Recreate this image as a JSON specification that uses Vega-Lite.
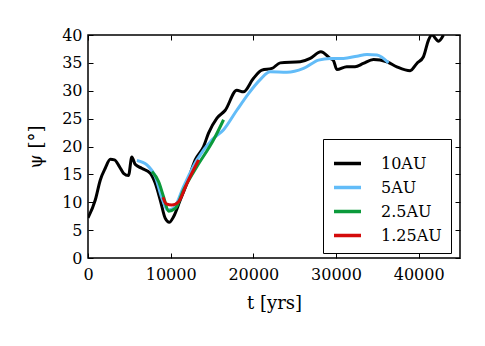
{
  "$schema": "https://vega.github.io/schema/vega-lite/v6.json",
  "autosize": {"type": "none"},
  "padding": {"left": 88, "top": 35, "right": 25, "bottom": 88},
  "width": 372,
  "height": 223,
  "background": "white",
  "config": {
    "view": {"stroke": "black", "strokeWidth": 1.5},
    "font": "DejaVu Serif",
    "axis": {
      "grid": false,
      "domain": false,
      "tickColor": "black",
      "tickSize": -5,
      "tickWidth": 1,
      "labelFlush": false,
      "labelFont": "DejaVu Serif",
      "labelFontSize": 16,
      "labelColor": "black",
      "titleFont": "DejaVu Serif",
      "titleFontSize": 18,
      "titleFontWeight": "normal",
      "titleColor": "black"
    }
  },
  "data": {
    "values": [
      {"t": 0, "psi": 7.2, "s": "10AU"},
      {"t": 880, "psi": 10.4, "s": "10AU"},
      {"t": 1490, "psi": 14.0, "s": "10AU"},
      {"t": 2090, "psi": 16.1, "s": "10AU"},
      {"t": 2700, "psi": 17.7, "s": "10AU"},
      {"t": 3200, "psi": 17.6, "s": "10AU"},
      {"t": 3800, "psi": 16.4, "s": "10AU"},
      {"t": 4300, "psi": 15.2, "s": "10AU"},
      {"t": 4900, "psi": 14.8, "s": "10AU"},
      {"t": 5300, "psi": 18.1, "s": "10AU"},
      {"t": 5700, "psi": 16.8, "s": "10AU"},
      {"t": 6500, "psi": 16.1, "s": "10AU"},
      {"t": 7530, "psi": 15.2, "s": "10AU"},
      {"t": 8140, "psi": 13.4, "s": "10AU"},
      {"t": 8740, "psi": 10.4, "s": "10AU"},
      {"t": 9350, "psi": 7.1, "s": "10AU"},
      {"t": 9830, "psi": 6.4, "s": "10AU"},
      {"t": 10350, "psi": 7.4, "s": "10AU"},
      {"t": 11160, "psi": 10.4, "s": "10AU"},
      {"t": 11970, "psi": 13.4, "s": "10AU"},
      {"t": 12970, "psi": 17.6, "s": "10AU"},
      {"t": 13980, "psi": 20.0, "s": "10AU"},
      {"t": 14580, "psi": 22.4, "s": "10AU"},
      {"t": 15600, "psi": 25.1, "s": "10AU"},
      {"t": 16600, "psi": 26.5, "s": "10AU"},
      {"t": 18000, "psi": 30.1, "s": "10AU"},
      {"t": 18800, "psi": 29.8, "s": "10AU"},
      {"t": 20000, "psi": 32.2, "s": "10AU"},
      {"t": 21040, "psi": 33.7, "s": "10AU"},
      {"t": 22250, "psi": 34.0, "s": "10AU"},
      {"t": 23250, "psi": 35.0, "s": "10AU"},
      {"t": 25670, "psi": 35.2, "s": "10AU"},
      {"t": 26880, "psi": 35.8, "s": "10AU"},
      {"t": 28170, "psi": 37.0, "s": "10AU"},
      {"t": 29300, "psi": 35.8, "s": "10AU"},
      {"t": 29700, "psi": 35.4, "s": "10AU"},
      {"t": 30100, "psi": 33.8, "s": "10AU"},
      {"t": 31300, "psi": 34.3, "s": "10AU"},
      {"t": 32300, "psi": 34.3, "s": "10AU"},
      {"t": 33300, "psi": 34.9, "s": "10AU"},
      {"t": 34540, "psi": 35.6, "s": "10AU"},
      {"t": 36150, "psi": 35.2, "s": "10AU"},
      {"t": 37360, "psi": 34.3, "s": "10AU"},
      {"t": 38970, "psi": 33.6, "s": "10AU"},
      {"t": 39780, "psi": 34.9, "s": "10AU"},
      {"t": 40580, "psi": 36.1, "s": "10AU"},
      {"t": 41190, "psi": 39.1, "s": "10AU"},
      {"t": 41600, "psi": 40.0, "s": "10AU"},
      {"t": 42400, "psi": 38.9, "s": "10AU"},
      {"t": 43000, "psi": 40.0, "s": "10AU"},
      {"t": 5920, "psi": 17.5, "s": "5AU"},
      {"t": 7130, "psi": 16.7, "s": "5AU"},
      {"t": 8140, "psi": 14.6, "s": "5AU"},
      {"t": 8950, "psi": 10.7, "s": "5AU"},
      {"t": 9630, "psi": 8.6, "s": "5AU"},
      {"t": 10350, "psi": 8.9, "s": "5AU"},
      {"t": 11560, "psi": 12.8, "s": "5AU"},
      {"t": 13180, "psi": 17.6, "s": "5AU"},
      {"t": 15000, "psi": 21.2, "s": "5AU"},
      {"t": 16400, "psi": 23.0, "s": "5AU"},
      {"t": 18000, "psi": 26.5, "s": "5AU"},
      {"t": 19420, "psi": 29.5, "s": "5AU"},
      {"t": 20830, "psi": 32.0, "s": "5AU"},
      {"t": 22040, "psi": 33.4, "s": "5AU"},
      {"t": 24060, "psi": 33.3, "s": "5AU"},
      {"t": 26070, "psi": 34.0, "s": "5AU"},
      {"t": 27880, "psi": 35.5, "s": "5AU"},
      {"t": 29300, "psi": 35.8, "s": "5AU"},
      {"t": 30900, "psi": 35.8, "s": "5AU"},
      {"t": 32530, "psi": 36.2, "s": "5AU"},
      {"t": 33740, "psi": 36.5, "s": "5AU"},
      {"t": 34950, "psi": 36.4, "s": "5AU"},
      {"t": 36350, "psi": 35.0, "s": "5AU"},
      {"t": 7740, "psi": 15.5, "s": "2.5AU"},
      {"t": 8540, "psi": 13.7, "s": "2.5AU"},
      {"t": 9140, "psi": 11.0, "s": "2.5AU"},
      {"t": 9750, "psi": 8.4, "s": "2.5AU"},
      {"t": 10560, "psi": 8.9, "s": "2.5AU"},
      {"t": 11560, "psi": 12.2, "s": "2.5AU"},
      {"t": 13180, "psi": 16.4, "s": "2.5AU"},
      {"t": 15190, "psi": 21.2, "s": "2.5AU"},
      {"t": 16400, "psi": 24.8, "s": "2.5AU"},
      {"t": 9070, "psi": 10.9, "s": "1.25AU"},
      {"t": 9470, "psi": 9.7, "s": "1.25AU"},
      {"t": 10150, "psi": 9.5, "s": "1.25AU"},
      {"t": 10960, "psi": 10.1, "s": "1.25AU"},
      {"t": 11970, "psi": 13.4, "s": "1.25AU"},
      {"t": 13380, "psi": 17.6, "s": "1.25AU"}
    ]
  },
  "layer": [
    {
      "mark": {"type": "line", "strokeWidth": 3, "clip": true, "interpolate": "monotone"},
      "encoding": {
        "x": {"field": "t", "type": "quantitative", "scale": {"domain": [0, 45000], "nice": false},
              "axis": {"values": [0, 10000, 20000, 30000, 40000], "title": "t [yrs]", "labelPadding": 13, "titlePadding": 12, "format": "d"}},
        "y": {"field": "psi", "type": "quantitative", "scale": {"domain": [0, 40], "nice": false},
              "axis": {"values": [0, 5, 10, 15, 20, 25, 30, 35, 40], "title": "ψ [°]", "labelPadding": 11, "titlePadding": 16}},
        "color": {"field": "s", "type": "nominal",
                  "scale": {"domain": ["10AU", "5AU", "2.5AU", "1.25AU"], "range": ["#000000", "#62bcf8", "#0b9a3b", "#d40b0b"]},
                  "legend": {"title": null, "orient": "none", "legendX": 235, "legendY": 104,
                             "symbolType": "stroke", "symbolSize": 729, "symbolStrokeWidth": 3.5,
                             "labelFontSize": 16, "labelFont": "DejaVu Serif", "labelColor": "black",
                             "strokeColor": "black", "fillColor": "white", "padding": 9, "rowPadding": 0,
                             "labelOffset": 18, "cornerRadius": 0}},
        "detail": {"field": "s"}
      }
    },
    {
      "mark": {"type": "rule", "opacity": 0},
      "encoding": {
        "x": {"field": "t", "type": "quantitative", "aggregate": "min",
              "axis": {"orient": "top", "values": [0, 10000, 20000, 30000, 40000], "labels": false, "title": null}},
        "y": {"field": "psi", "type": "quantitative", "aggregate": "min",
              "axis": {"orient": "right", "values": [0, 5, 10, 15, 20, 25, 30, 35, 40], "labels": false, "title": null}}
      }
    }
  ],
  "resolve": {"axis": {"x": "independent", "y": "independent"}}
}
